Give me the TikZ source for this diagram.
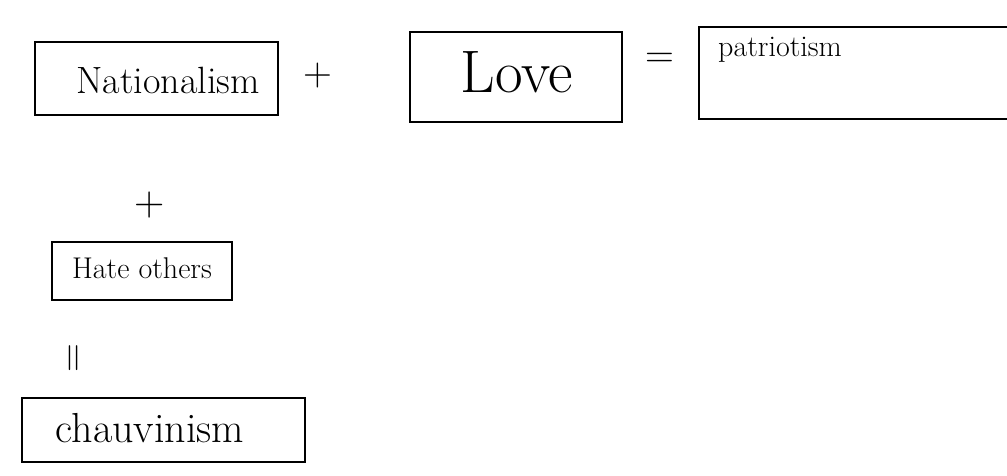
\documentclass[tikz,border=0pt]{standalone}
\usepackage{amsmath}
\usepackage{amssymb}

\begin{document}
\begin{tikzpicture}[x=1pt,y=-1pt,line width=2pt,
    box/.style={draw,inner sep=0pt,minimum width=#1},
    word/.style={font=\fontsize{#1}{#1}\selectfont}]
  \useasboundingbox (0,0) rectangle (1007,476);

  \node[box=243pt,minimum height=73pt] (nat) at (156,79) {};
  \node[word=38] (natw) at (168,80) {Nationalism};
  \node[word=40] (plusa) at (318,76) {+};

  \node[box=212pt,minimum height=90pt] (love) at (516,77) {};
  \node[word=60] (lovew) at (517,72) {Love};
  \node[word=40] (eq) at (660,60) {=};

  % right side runs off the page
  \node[inner sep=0pt,minimum width=307pt,minimum height=90pt] (pat) at (853.5,73) {};
  \draw (pat.north east) -- (pat.north west) -- (pat.south west) -- (pat.south east);
  \node[word=30] (patw) at (780,50) {patriotism};

  \node[word=42] (plusb) at (150,205) {+};
  \node[box=180pt,minimum height=58pt] (hate) at (142,271) {};
  \node[word=30] (hatew) at (142,268) {Hate others};

  \node[word=40,rotate=90] (eqb) at (76,358) {=};
  \node[box=283pt,minimum height=64pt] (chau) at (163,430) {};
  \node[word=42] (chauw) at (150,428) {chauvinism};
\end{tikzpicture}
\end{document}
